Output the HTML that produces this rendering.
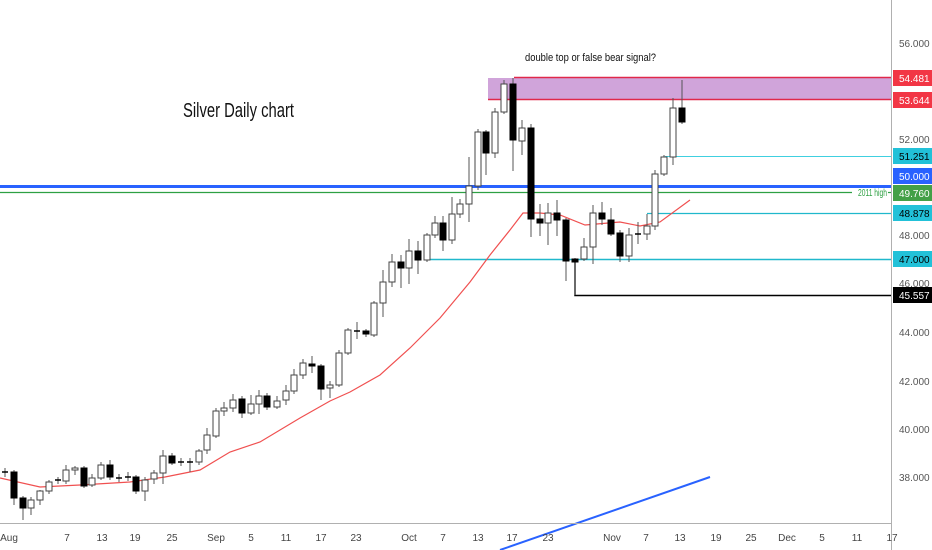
<!DOCTYPE html>
<html><head><meta charset="utf-8"><style>
html,body{margin:0;padding:0;background:#fff;}
svg{display:block;font-family:"Liberation Sans",sans-serif;}
</style></head><body>
<svg id="c" width="932" height="550" viewBox="0 0 932 550" xmlns="http://www.w3.org/2000/svg">
<rect width="932" height="550" fill="#fff"/>
<!-- zone -->
<rect x="488" y="78" width="403" height="21" fill="#ce9fd8" opacity="0.95"/>
<line x1="514" y1="77.5" x2="891" y2="77.5" stroke="#e0284a" stroke-width="1.5"/>
<line x1="488" y1="99.5" x2="891" y2="99.5" stroke="#e0284a" stroke-width="1.5"/>
<line x1="665" y1="156.5" x2="891" y2="156.5" stroke="#40d0e0" stroke-width="1"/>
<line x1="0" y1="186.5" x2="891" y2="186.5" stroke="#2962ff" stroke-width="3"/>
<line x1="0" y1="192.5" x2="852" y2="192.5" stroke="#2ea043" stroke-width="1.2"/>
<line x1="888" y1="192.5" x2="891" y2="192.5" stroke="#2ea043" stroke-width="1.2"/>
<text x="858" y="196" font-size="10" fill="#2ea043" textLength="29" lengthAdjust="spacingAndGlyphs">2011 high</text>
<line x1="647" y1="213.5" x2="891" y2="213.5" stroke="#20b8cc" stroke-width="1.2"/>
<line x1="427" y1="259.5" x2="891" y2="259.5" stroke="#20b8cc" stroke-width="1.5"/>
<polyline points="575,259 575,295.5 891,295.5" fill="none" stroke="#000" stroke-width="1.5"/>
<!-- MAs -->
<polyline fill="none" stroke="#f05050" stroke-width="1.2" points="0,478 40,487 80,485 130,482 165,477 200,470 230,452 260,442 300,418 330,401 350,392 380,375 410,348 440,318 470,282 490,255 510,230 523,213 540,213 560,215 585,225 620,222 640,226 660,222 690,200"/>
<line x1="500" y1="550" x2="710" y2="477" stroke="#2962ff" stroke-width="2"/>
<g id="candles"></g>
<!-- axes -->
<line x1="891.5" y1="0" x2="891.5" y2="550" stroke="#b0b0b0" stroke-width="1"/>
<line x1="0" y1="523.5" x2="891" y2="523.5" stroke="#b0b0b0" stroke-width="1"/>
<g font-size="10" fill="#555">
<text x="899" y="47">56.000</text>
<text x="899" y="143">52.000</text>
<text x="899" y="239">48.000</text>
<text x="899" y="287">46.000</text>
<text x="899" y="336">44.000</text>
<text x="899" y="385">42.000</text>
<text x="899" y="433">40.000</text>
<text x="899" y="481">38.000</text>
</g>
<g font-size="10" fill="#fff">
<rect x="893" y="70" width="39" height="16" fill="#f23645"/><text x="899" y="82">54.481</text>
<rect x="893" y="92" width="39" height="16" fill="#f23645"/><text x="899" y="104">53.644</text>
<rect x="893" y="148" width="39" height="16" fill="#22c1d8"/><text x="899" y="160" fill="#000">51.251</text>
<rect x="893" y="168" width="39" height="16" fill="#2962ff"/><text x="899" y="180">50.000</text>
<rect x="893" y="185" width="39" height="16" fill="#43a047"/><text x="899" y="197">49.760</text>
<rect x="893" y="205" width="39" height="16" fill="#22c1d8"/><text x="899" y="217" fill="#000">48.878</text>
<rect x="893" y="251" width="39" height="16" fill="#22c1d8"/><text x="899" y="263" fill="#000">47.000</text>
<rect x="893" y="287" width="39" height="16" fill="#000"/><text x="899" y="299">45.557</text>
</g>
<g font-size="10" fill="#444" text-anchor="middle">
<text x="9" y="541">Aug</text><text x="67" y="541">7</text><text x="102" y="541">13</text><text x="135" y="541">19</text><text x="172" y="541">25</text>
<text x="216" y="541">Sep</text><text x="251" y="541">5</text><text x="286" y="541">11</text><text x="321" y="541">17</text><text x="356" y="541">23</text>
<text x="409" y="541">Oct</text><text x="443" y="541">7</text><text x="478" y="541">13</text><text x="512" y="541">17</text><text x="548" y="541">23</text>
<text x="612" y="541">Nov</text><text x="646" y="541">7</text><text x="680" y="541">13</text><text x="716" y="541">19</text><text x="751" y="541">25</text>
<text x="787" y="541">Dec</text><text x="822" y="541">5</text><text x="857" y="541">11</text><text x="892" y="541">17</text>
</g>
<text x="183" y="117" font-size="20" fill="#111" textLength="111" lengthAdjust="spacingAndGlyphs">Silver Daily chart</text>
<text x="525" y="61" font-size="11" fill="#111" textLength="131" lengthAdjust="spacingAndGlyphs">double top or false bear signal?</text>
</svg>
<script>
// x, open, close, high, low (pixel y)
var d=[[5,472,472,468,477],[14,472,498,470,505],[23,498,508,496,520],[31,508,500,497,515],[40,500,491,490,505],[49,491,482,480,494],[58,480,480,477,484],[66,481,470,465,484],[75,470,468,466,475],[84,468,486,466,488],[92,485,478,474,487],[101,478,465,462,480],[110,465,477,460,480],[119,478,478,474,482],[128,477,477,472,481],[136,477,491,475,494],[145,491,480,477,501],[154,479,473,470,484],[163,473,456,450,484],[172,456,463,453,465],[181,462,462,458,466],[190,462,462,458,472],[199,462,451,449,465],[207,450,435,428,454],[216,436,411,408,438],[224,411,408,402,416],[233,408,400,394,412],[242,399,413,396,418],[251,413,404,395,415],[259,404,396,390,414],[267,396,407,393,410],[277,407,401,396,409],[286,400,391,385,405],[294,391,375,369,394],[303,375,363,359,379],[312,364,366,356,373],[321,366,389,364,400],[330,388,385,381,398],[339,385,353,350,387],[348,353,330,328,355],[357,331,331,322,339],[366,331,334,329,337],[374,335,303,301,337],[383,303,282,270,317],[392,282,262,254,287],[401,262,268,255,288],[409,268,251,239,284],[418,251,260,241,274],[427,260,235,233,262],[435,235,223,216,238],[443,223,240,216,251],[452,240,214,197,244],[460,214,204,199,218],[469,204,186,157,222],[478,186,132,129,190],[486,132,153,130,175],[495,153,112,108,158],[504,112,84,80,114],[513,84,140,78,171],[522,141,128,120,155],[531,128,219,124,237],[540,219,223,204,236],[548,223,213,203,245],[557,213,220,200,236],[566,220,261,218,281],[575,259,262,258,295],[584,259,247,238,261],[593,247,213,205,264],[602,213,219,202,225],[611,220,234,208,236],[620,233,256,230,262],[629,256,235,228,262],[638,234,234,222,244],[647,234,226,214,240],[655,226,174,170,230],[664,174,157,155,176],[673,157,108,98,165],[682,108,122,80,124]];
var g=document.getElementById('candles'),s='';
d.forEach(function(c){var x=c[0],o=c[1],cl=c[2],h=c[3],l=c[4];var t=Math.min(o,cl),b=Math.max(o,cl);var bull=cl<o;
s+='<line x1="'+x+'" y1="'+h+'" x2="'+x+'" y2="'+l+'" stroke="#555" stroke-width="1"/>';
if(b-t<1.5){s+='<line x1="'+(x-3)+'" y1="'+t+'" x2="'+(x+3)+'" y2="'+t+'" stroke="#000" stroke-width="1.5"/>';}
else s+='<rect x="'+(x-3)+'" y="'+t+'" width="6" height="'+(b-t)+'" fill="'+(bull?'#fff':'#000')+'" stroke="'+(bull?'#444':'#000')+'" stroke-width="1"/>';});
g.innerHTML=s;
</script>
</body></html>
